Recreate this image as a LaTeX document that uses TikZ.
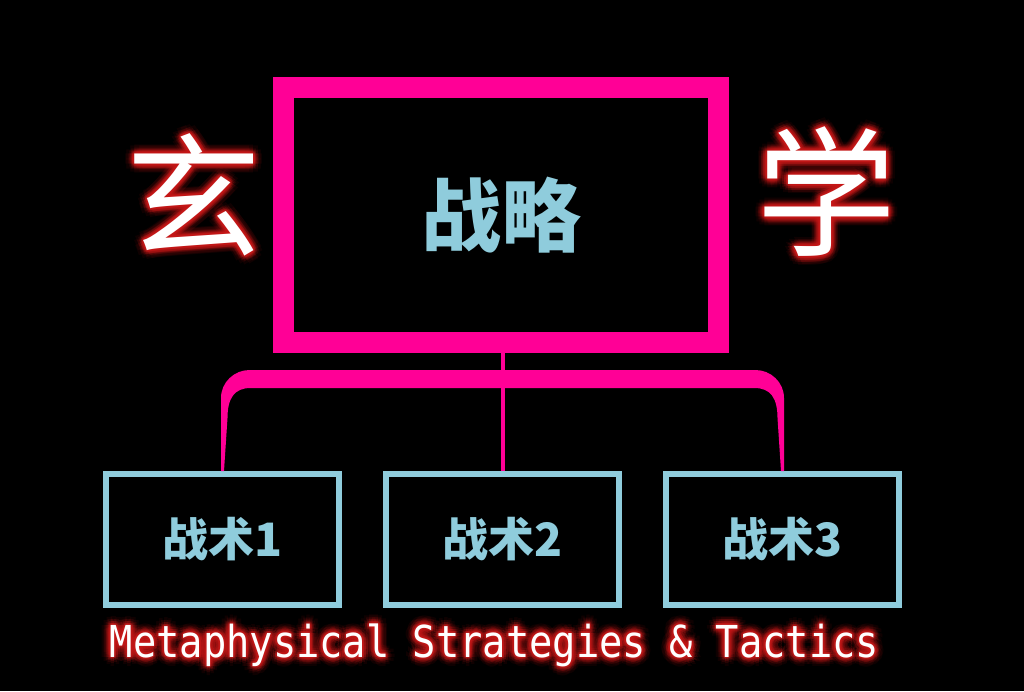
\documentclass[tikz,border=0pt]{standalone}
\usepackage{fontspec}
\newfontfamily\cjk{Noto Sans CJK SC}
\newfontfamily\monotxt[FakeStretch=0.88]{DejaVu Sans Mono}
\usetikzlibrary{positioning,calc}
\definecolor{hotpink}{RGB}{255,0,150}
\definecolor{paleblue}{RGB}{143,204,220}
\definecolor{glowred}{RGB}{200,25,25}

\begin{document}
\begin{tikzpicture}[x=1pt,y=-1pt,
	chief/.style={draw=hotpink,line width=21pt,minimum width=435pt,minimum height=255pt,inner sep=0pt,text=paleblue,font=\cjk\bfseries\fontsize{80}{80}\selectfont},
	tactic/.style={draw=paleblue,line width=6pt,minimum width=233pt,minimum height=131pt,inner sep=0pt,text=paleblue,font=\cjk\bfseries\fontsize{46}{46}\selectfont},
	stem/.style={draw=hotpink,line width=4pt},
	brace/.style={fill=hotpink},
	bigchar/.style={inner sep=0pt,font=\cjk\fontsize{135}{135}\selectfont},
	motto/.style={inner sep=0pt,anchor=base,font=\monotxt\fontsize{44}{44}\selectfont},
	glow/.style={text=glowred,text opacity=#1}]
				\fill[black] (0,0) rectangle (1024,691);
				\useasboundingbox (0,0) rectangle (1024,691);
				% boxes
				\node[chief] (top) at (501,215) {战略};
				\node[tactic] (t2) at (502.5,539.5) {战术2};
				\node[tactic,left=41pt of t2] (t1) {战术1};
				\node[tactic,right=41pt of t2] (t3) {战术3};
				% connectors
				\coordinate (bartop) at ($(top.south)+(0,17)$);
				\coordinate (barbot) at ($(top.south)+(0,35)$);
				\draw[stem] (t2.north |- top.south) -- (t2.north);
				\fill[brace] ($(t1.north)+(-1.5,0)$)
					-- ($(t1.north |- bartop)+(-1.5,28)$)
					.. controls ($(t1.north |- bartop)+(-1.5,12)$) and ($(t1.north |- bartop)+(12,0)$) .. ($(t1.north |- bartop)+(27,0)$)
					-- ($(t3.north |- bartop)+(-27,0)$)
					.. controls ($(t3.north |- bartop)+(-12,0)$) and ($(t3.north |- bartop)+(1.5,12)$) .. ($(t3.north |- bartop)+(1.5,28)$)
					-- ($(t3.north)+(1.5,0)$) -- ($(t3.north)+(-1.5,0)$)
					-- ($(t3.north |- barbot)+(-5,30)$)
					.. controls ($(t3.north |- barbot)+(-5,10)$) and ($(t3.north |- barbot)+(-12,0)$) .. ($(t3.north |- barbot)+(-28,0)$)
					-- ($(t1.north |- barbot)+(28,0)$)
					.. controls ($(t1.north |- barbot)+(12,0)$) and ($(t1.north |- barbot)+(5,10)$) .. ($(t1.north |- barbot)+(5,30)$)
					-- ($(t1.north)+(1.5,0)$) -- cycle;
				% glowing titles
				\coordinate (xuanpos) at (194,195);
				\coordinate (xuepos) at (826,192);
				\coordinate (mottopos) at (494.5,657);
				\foreach \r/\op in {9/0.08,6/0.13,4/0.2,2/0.3}
					\foreach \a in {0,30,...,330}{
						\node[bigchar,glow=\op] (xuan-\r-\a) at ($(xuanpos)+(\a:\r)$) {玄};
						\node[bigchar,glow=\op,font=\cjk\fontsize{140}{140}\selectfont] (xue-\r-\a) at ($(xuepos)+(\a:\r)$) {学};
						\node[motto,glow=\op] (motto-\r-\a) at ($(mottopos)+(\a:\r)$) {Metaphysical Strategies \& Tactics};
					}
				\node[bigchar,text=white] (xuan) at (xuanpos) {玄};
				\node[bigchar,text=white,font=\cjk\fontsize{140}{140}\selectfont] (xue) at (xuepos) {学};
				\node[motto,text=white] (motto) at (mottopos) {Metaphysical Strategies \& Tactics};
\end{tikzpicture}
\end{document}
